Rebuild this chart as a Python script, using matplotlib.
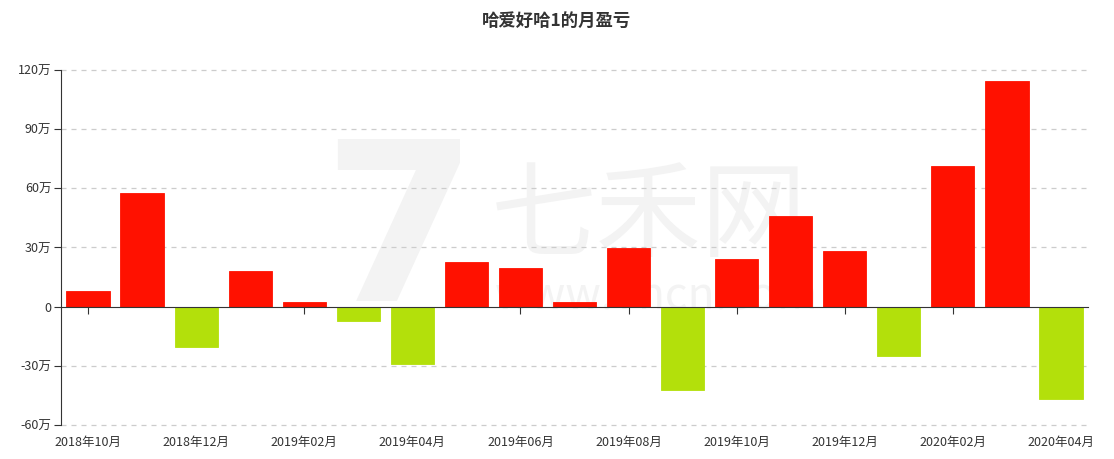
import matplotlib.pyplot as plt
import numpy as np

plt.rcParams['font.family'] = ['Noto Sans CJK SC', 'DejaVu Sans']

# monthly profit/loss, unit: 万
months = ['2018年10月', '2018年11月', '2018年12月', '2019年01月', '2019年02月',
          '2019年03月', '2019年04月', '2019年05月', '2019年06月', '2019年07月',
          '2019年08月', '2019年09月', '2019年10月', '2019年11月', '2019年12月',
          '2020年01月', '2020年02月', '2020年03月', '2020年04月']
profit = [7.8, 57.6, -20.2, 18.1, 2.3, -7.1, -29.3, 22.9, 19.5, 2.2,
          29.7, -42.1, 24.4, 45.8, 28.0, -24.8, 71.5, 114.2, -47.0]
y_ticks = [-60, -30, 0, 30, 60, 90, 120]
y_labels = ['-60万', '-30万', '0', '30万', '60万', '90万', '120万']

RED = '#ff1100'
GREEN = '#b3e00b'
TXT = '#333333'
WM = '#f3f3f3'

fig = plt.figure(figsize=(11.14, 4.59), dpi=100)
ax = fig.add_axes([61 / 1114, 34 / 459, 1027 / 1114, 355 / 459])

# faint watermark
ax.text(0.33, 0.52, '7', transform=ax.transAxes, fontsize=160, color=WM,
        ha='center', va='center', fontweight='bold', zorder=0, family='DejaVu Sans')
ax.text(0.573, 0.58, '七禾网', transform=ax.transAxes, fontsize=76, color=WM,
        ha='center', va='center', zorder=0)
ax.text(0.58, 0.365, 'www.7hcn.com', transform=ax.transAxes, fontsize=32, color=WM,
        ha='center', va='center', zorder=0)

x = np.arange(len(months))
colors = [RED if v >= 0 else GREEN for v in profit]
ax.bar(x, profit, width=0.8, color=colors, edgecolor=colors, linewidth=0.6, zorder=3)

ax.set_xlim(-0.5, len(months) - 0.5)
ax.set_ylim(-60, 120)
ax.set_yticks(y_ticks)
ax.set_yticklabels(y_labels)
for t in y_ticks:
    if t != 0:
        ax.axhline(t, color='#cccccc', linestyle=(0, (4, 4)), linewidth=0.9,
                   zorder=1, clip_on=False)

for s in ['top', 'right']:
    ax.spines[s].set_visible(False)
ax.spines['left'].set_color(TXT)
ax.spines['bottom'].set_position(('data', 0))
ax.spines['bottom'].set_color(TXT)
ax.spines['bottom'].set_zorder(4)

ax.set_xticks(x[::2])
ax.set_xticklabels(months[::2])
ax.tick_params(axis='x', length=5, color=TXT, labelcolor=TXT, labelsize=9, pad=88)
ax.tick_params(axis='y', length=5, color=TXT, labelcolor=TXT, labelsize=9, pad=2)

fig.suptitle('哈爱好哈1的月盈亏', x=0.5, y=0.975, fontsize=12.5, fontweight='bold', color=TXT)

fig.savefig('out.png', dpi=100, facecolor='white')
